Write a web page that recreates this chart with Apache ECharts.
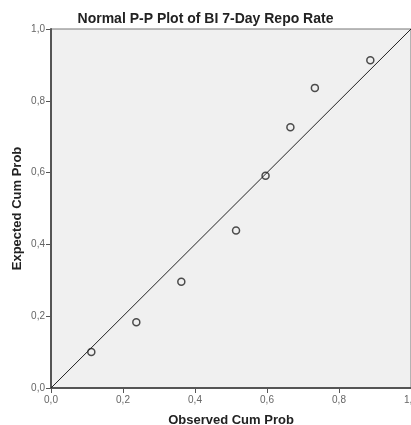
<!DOCTYPE html>
<html>
<head>
<meta charset="utf-8">
<script src="https://cdn.jsdelivr.net/npm/echarts@6/dist/echarts.min.js"></script>
<style>html,body{margin:0;padding:0;background:#fff;}#c{width:411px;height:425px;}</style>
</head>
<body>
<div id="c"></div>
<script>
var observed = [0.112, 0.237, 0.362, 0.514, 0.596, 0.665, 0.733, 0.887];
var expected = [0.100, 0.183, 0.296, 0.439, 0.591, 0.726, 0.836, 0.913];
var refLine = [[0, 0], [1, 1]];

var points = observed.map(function (v, i) { return [v, expected[i]]; });
function fmt(v) { return v.toFixed(1).replace('.', ','); }
var FONT = 'Arial, "Liberation Sans", sans-serif';

var chart = echarts.init(document.getElementById('c'), null, {renderer: 'canvas'});
chart.setOption({
  animation: false,
  backgroundColor: '#ffffff',
  title: {
    text: 'Normal P-P Plot of BI 7-Day Repo Rate',
    left: 'center',
    top: 7,
    textStyle: {fontFamily: FONT, fontSize: 14, fontWeight: 'bold', color: '#222'}
  },
  grid: {
    left: 51, top: 29, right: 0, bottom: 37,
    outerBoundsMode: 'none', containLabel: false,
    show: true, backgroundColor: '#f0f0f0', borderColor: '#777', borderWidth: 1
  },
  xAxis: {
    type: 'value', min: 0, max: 1, interval: 0.2,
    name: 'Observed Cum Prob', nameLocation: 'middle', nameGap: 26, nameMoveOverlap: false,
    nameTextStyle: {fontFamily: FONT, fontSize: 13, fontWeight: 'bold', color: '#222'},
    axisLine: {show: true, lineStyle: {color: '#555', width: 2}},
    axisTick: {show: true, length: 5, lineStyle: {color: '#555'}},
    axisLabel: {formatter: fmt, fontFamily: FONT, fontSize: 10, color: '#666', margin: 7},
    splitLine: {show: false}
  },
  yAxis: {
    type: 'value', min: 0, max: 1, interval: 0.2,
    name: 'Expected Cum Prob', nameLocation: 'middle', nameGap: 27, nameMoveOverlap: false,
    nameTextStyle: {fontFamily: FONT, fontSize: 13, fontWeight: 'bold', color: '#222'},
    axisLine: {show: true, lineStyle: {color: '#555', width: 2}},
    axisTick: {show: true, length: 5, lineStyle: {color: '#555'}},
    axisLabel: {formatter: fmt, fontFamily: FONT, fontSize: 10, color: '#666', margin: 6},
    splitLine: {show: false}
  },
  series: [
    {
      type: 'line', data: refLine, symbol: 'none', silent: true,
      lineStyle: {color: '#222', width: 1}
    },
    {
      type: 'scatter', data: points, symbol: 'circle', symbolSize: 7,
      itemStyle: {color: 'rgba(0,0,0,0)', borderColor: '#222', borderWidth: 1.5}
    }
  ]
});
</script>
</body>
</html>
